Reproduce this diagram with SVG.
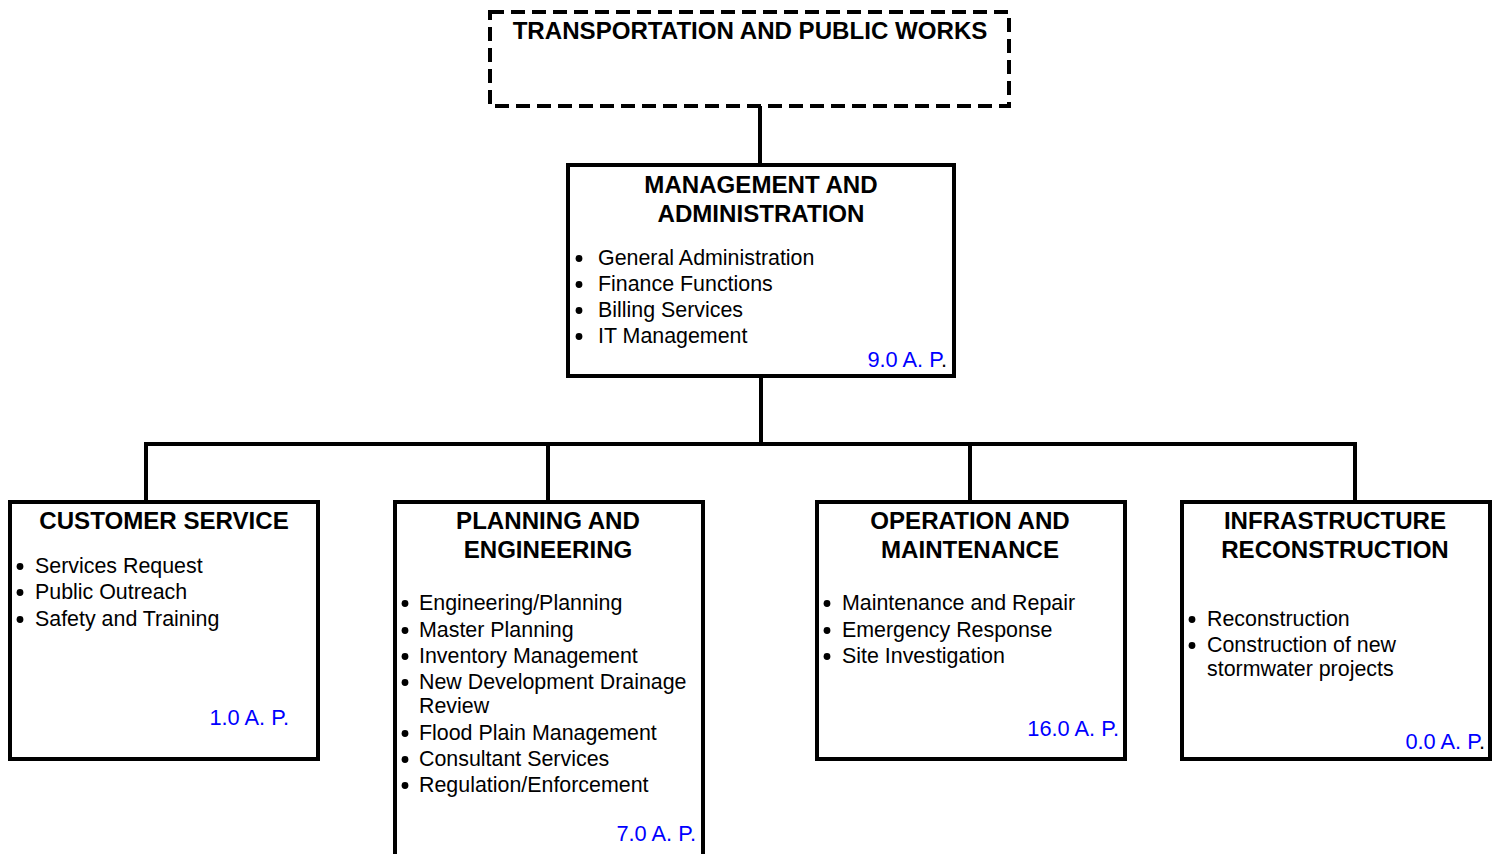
<svg xmlns="http://www.w3.org/2000/svg" width="1501" height="854" viewBox="0 0 1501 854">
<style>
.box{fill:#fff;stroke:#000;stroke-width:4}
.dash{fill:#fff;stroke:#000;stroke-width:4;stroke-dasharray:14 7}
.ln{stroke:#000;stroke-width:4;fill:none}
.t{font-family:"Liberation Sans",Arial,sans-serif;font-weight:bold;font-size:24.1px;fill:#000;text-anchor:middle}
.b{font-family:"Liberation Sans",Arial,sans-serif;font-size:21.4px;fill:#000}
.ap{font-family:"Liberation Sans",Arial,sans-serif;font-size:21.8px;fill:#0000ff;text-anchor:end}
</style>
<defs>
<circle id="dot" r="3.4" fill="#000"/>
</defs>
<rect width="1501" height="854" fill="#fff"/>
<g id="connectors">
<line class="ln" x1="760" y1="106" x2="760" y2="165"/>
<line class="ln" x1="761" y1="376" x2="761" y2="446"/>
<line class="ln" x1="144" y1="444" x2="1357" y2="444"/>
<line class="ln" x1="146" y1="444" x2="146" y2="502"/>
<line class="ln" x1="548" y1="444" x2="548" y2="502"/>
<line class="ln" x1="970" y1="444" x2="970" y2="502"/>
<line class="ln" x1="1355" y1="444" x2="1355" y2="502"/>
</g>
<g id="top">
<rect class="dash" x="490" y="12" width="519" height="94"/>
<text class="t" x="750" y="39">TRANSPORTATION AND PUBLIC WORKS</text>
</g>
<g id="management">
<rect class="box" x="568" y="165" width="386" height="211"/>
<text class="t" x="761" y="193">MANAGEMENT AND</text>
<text class="t" x="761" y="222">ADMINISTRATION</text>
<use href="#dot" x="579" y="258.5"/><text class="b" x="598" y="265">General Administration</text>
<use href="#dot" x="579" y="284.5"/><text class="b" x="598" y="291">Finance Functions</text>
<use href="#dot" x="579" y="310.5"/><text class="b" x="598" y="317">Billing Services</text>
<use href="#dot" x="579" y="336.5"/><text class="b" x="598" y="343">IT Management</text>
<text class="ap" x="947" y="367">9.0 A. P<tspan fill="#000">.</tspan></text>
</g>
<g id="customer">
<rect class="box" x="10" y="502" width="308" height="257"/>
<text class="t" x="164" y="529">CUSTOMER SERVICE</text>
<use href="#dot" x="20" y="566.5"/><text class="b" x="35" y="573">Services Request</text>
<use href="#dot" x="20" y="592.5"/><text class="b" x="35" y="599">Public Outreach</text>
<use href="#dot" x="20" y="619.5"/><text class="b" x="35" y="626">Safety and Training</text>
<text class="ap" x="289" y="725">1.0 A. P.</text>
</g>
<g id="planning">
<rect class="box" x="395" y="502" width="308" height="356"/>
<text class="t" x="548" y="529">PLANNING AND</text>
<text class="t" x="548" y="558">ENGINEERING</text>
<use href="#dot" x="405" y="603.5"/><text class="b" x="419" y="610">Engineering/Planning</text>
<use href="#dot" x="405" y="630.5"/><text class="b" x="419" y="637">Master Planning</text>
<use href="#dot" x="405" y="656.5"/><text class="b" x="419" y="663">Inventory Management</text>
<use href="#dot" x="405" y="682.5"/><text class="b" x="419" y="689">New Development Drainage</text>
<text class="b" x="419" y="713">Review</text>
<use href="#dot" x="405" y="733.5"/><text class="b" x="419" y="740">Flood Plain Management</text>
<use href="#dot" x="405" y="759.5"/><text class="b" x="419" y="766">Consultant Services</text>
<use href="#dot" x="405" y="785.5"/><text class="b" x="419" y="792">Regulation/Enforcement</text>
<text class="ap" x="696" y="841">7.0 A. P.</text>
</g>
<g id="operation">
<rect class="box" x="817" y="502" width="308" height="257"/>
<text class="t" x="970" y="529">OPERATION AND</text>
<text class="t" x="970" y="558">MAINTENANCE</text>
<use href="#dot" x="827" y="603.5"/><text class="b" x="842" y="610">Maintenance and Repair</text>
<use href="#dot" x="827" y="630.5"/><text class="b" x="842" y="637">Emergency Response</text>
<use href="#dot" x="827" y="656.5"/><text class="b" x="842" y="663">Site Investigation</text>
<text class="ap" x="1119" y="736">16.0 A. P.</text>
</g>
<g id="infrastructure">
<rect class="box" x="1182" y="502" width="308" height="257"/>
<text class="t" x="1335" y="529">INFRASTRUCTURE</text>
<text class="t" x="1335" y="558">RECONSTRUCTION</text>
<use href="#dot" x="1192" y="619.5"/><text class="b" x="1207" y="626">Reconstruction</text>
<use href="#dot" x="1192" y="645.5"/><text class="b" x="1207" y="652">Construction of new</text>
<text class="b" x="1207" y="676">stormwater projects</text>
<text class="ap" x="1485" y="749">0.0 A. P<tspan fill="#000">.</tspan></text>
</g>
</svg>
